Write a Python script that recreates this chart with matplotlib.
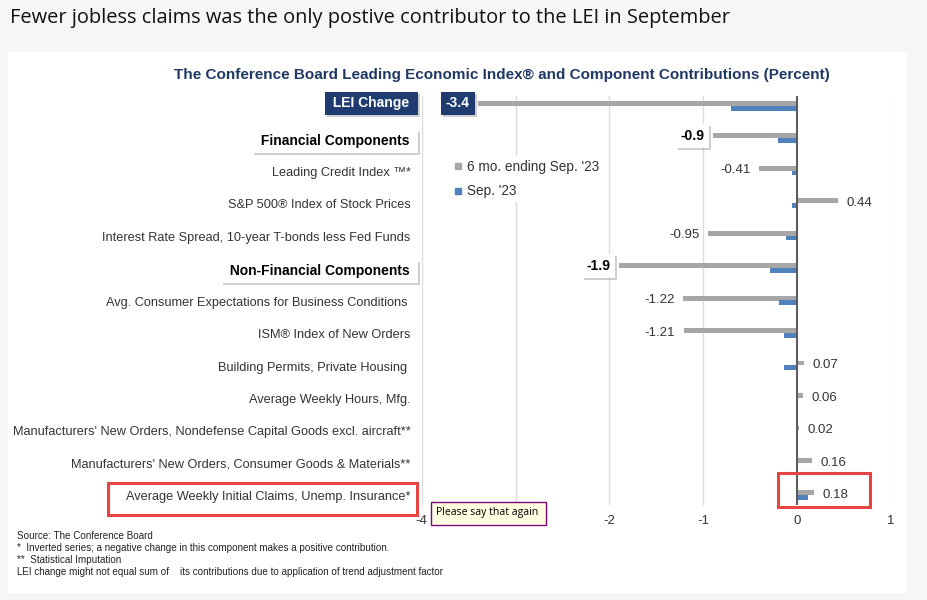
import matplotlib
matplotlib.use('Agg')
import matplotlib.pyplot as plt
import matplotlib.patheffects as pe
from matplotlib.patches import Rectangle
from matplotlib.lines import Line2D

rows = ["LEI Change",
        "Financial Components",
        "Leading Credit Index \u2122*",
        "S&P 500\u00ae Index of Stock Prices",
        "Interest Rate Spread, 10-year T-bonds less Fed Funds",
        "Non-Financial Components",
        "Avg. Consumer Expectations for Business Conditions ",
        "ISM\u00ae Index of New Orders",
        "Building Permits, Private Housing ",
        "Average Weekly Hours, Mfg.",
        "Manufacturers' New Orders, Nondefense Capital Goods excl. aircraft**",
        "Manufacturers' New Orders, Consumer Goods & Materials**",
        "Average Weekly Initial Claims, Unemp. Insurance*"]
six_month = [-3.4, -0.9, -0.41, 0.44, -0.95, -1.9, -1.22, -1.21, 0.07, 0.06, 0.02, 0.16, 0.18]
sep_23 = [-0.70, -0.20, -0.06, -0.05, -0.12, -0.29, -0.19, -0.14, -0.14, 0.0, 0.0, 0.0, 0.12]
kind = ['total', 'group', 'item', 'item', 'item', 'group', 'item', 'item', 'item', 'item', 'item', 'item', 'item']
xticks = [-4, -3, -2, -1, 0, 1]
series_names = ["6 mo. ending Sep. '23", "Sep. '23"]

footnotes = ["Source: The Conference Board",
             "*  Inverted series; a negative change in this component makes a positive contribution.",
             "**  Statistical Imputation",
             "LEI change might not equal sum of    its contributions due to application of trend adjustment factor"]

W, H = 928, 600
GRAY = '#a6a6a6'
BLUE = '#4f81bd'
NAVY = '#1f3b70'
TXT = '#333333'

plt.rcParams['font.family'] = ['Liberation Sans', 'DejaVu Sans']

fig = plt.figure(figsize=(W / 100, H / 100), dpi=100)
fig.patch.set_facecolor('#f6f6f6')
fig.patches.append(Rectangle((8 / W, 1 - 593 / H), 899 / W, 541 / H, transform=fig.transFigure,
                             facecolor='white', edgecolor='none', zorder=-5))

fig.text(10 / W, 1 - 18 / H, "Fewer jobless claims was the only postive contributor to the LEI in September",
         fontsize=14.4, family=['Open Sans', 'DejaVu Sans'], color='#111111', va='center', ha='left')
fig.text(502 / W, 1 - 75 / H,
         "The Conference Board Leading Economic Index\u00ae and Component Contributions (Percent)",
         fontsize=11, fontweight='bold', color='#1f3864', ha='center', va='center')

ax = fig.add_axes([421.7 / W, 1 - 505 / H, 469.3 / W, 409 / H])
ax.set_facecolor('none')
ax.set_xlim(-4, 1)
ax.set_ylim(12.3, -0.3)

y = list(range(len(rows)))
off = 0.073
ax.barh([v - off for v in y], six_month, height=0.15, color=GRAY, zorder=3)
ax.barh([v + off for v in y], sep_23, height=0.15, color=BLUE, zorder=3)
ax.axvline(0, color='#595959', lw=1.4, zorder=4)

ax.set_xticks(xticks)
ax.set_xticklabels([str(t) for t in xticks])
ax.grid(axis='x', color='#dcdcdc', lw=1, zorder=0)
ax.tick_params(axis='x', length=0, labelsize=9.5, labelcolor=TXT, pad=7.5)
ax.set_yticks([])
for s in ax.spines.values():
    s.set_visible(False)

shadow = [pe.withSimplePatchShadow(offset=(1.5, -1.5), shadow_rgbFace='#888888', alpha=0.4)]

for i, name in enumerate(rows):
    v = six_month[i]
    if kind[i] == 'item':
        ax.annotate(name, xy=(0, i), xycoords=('axes fraction', 'data'), xytext=(-8, -1.5),
                    textcoords='offset points', ha='right', va='center', fontsize=9.2, color=TXT)
        ax.annotate('%.2f' % v, xy=(v, i - off), xytext=(6 if v > 0 else -6, -1.5),
                    textcoords='offset points', ha='left' if v > 0 else 'right',
                    va='center', fontsize=9.5, color=TXT)
    else:
        if kind[i] == 'total':
            fc, tc, dy = NAVY, 'white', -0.07
        else:
            fc, tc, dy = 'white', 'black', 0.1
        t = ax.annotate(' ' + name + ' ', xy=(0, i + dy), xycoords=('axes fraction', 'data'), xytext=(-6, 0),
                        textcoords='offset points', ha='right', va='center', fontsize=10,
                        fontweight='bold', color=tc,
                        bbox=dict(boxstyle='square,pad=0.35', fc=fc, ec='none'))
        t.get_bbox_patch().set_path_effects(shadow)
        t2 = ax.annotate('%.1f' % v, xy=(v, i - off), xytext=(-6, 0), textcoords='offset points',
                         ha='right', va='center', fontsize=10, fontweight='bold', color=tc,
                         bbox=dict(boxstyle='square,pad=0.35', fc=fc, ec='none'), zorder=5)
        t2.get_bbox_patch().set_path_effects(shadow)

handles = [Line2D([], [], marker='s', ls='none', color=GRAY, markersize=5),
           Line2D([], [], marker='s', ls='none', color=BLUE, markersize=5)]
leg = ax.legend(handles, series_names, loc='upper left', bbox_to_anchor=(0.045, 0.87),
                frameon=True, framealpha=1, edgecolor='none', fontsize=9.8,
                handlelength=0.6, handletextpad=0.35, labelspacing=0.75, borderpad=0.3,
                labelcolor=TXT)
leg.get_frame().set_facecolor('white')

for k, line in enumerate(footnotes):
    fig.text(17 / W, 1 - (536 + 12 * k) / H, line, fontsize=7.1, color='#222222', va='center', ha='left')

# highlight boxes and tooltip
fig.patches.append(Rectangle((108 / W, 1 - 515 / H), 309 / W, 32 / H, transform=fig.transFigure,
                             fill=False, edgecolor='#e64545', lw=2.2, zorder=6))
fig.patches.append(Rectangle((778 / W, 1 - 507 / H), 92 / W, 34 / H, transform=fig.transFigure,
                             fill=False, edgecolor='#e64545', lw=2.2, zorder=6))
fig.patches.append(Rectangle((431 / W, 1 - 525 / H), 115 / W, 23 / H, transform=fig.transFigure,
                             facecolor='#ffffe1', edgecolor='#800080', lw=1, zorder=7))
fig.text(436 / W, 1 - 512 / H, "Please say that again", fontsize=7.6, family=['Open Sans', 'DejaVu Sans'],
         color='black', ha='left', va='center', zorder=8)

fig.savefig('out.png', dpi=100)
